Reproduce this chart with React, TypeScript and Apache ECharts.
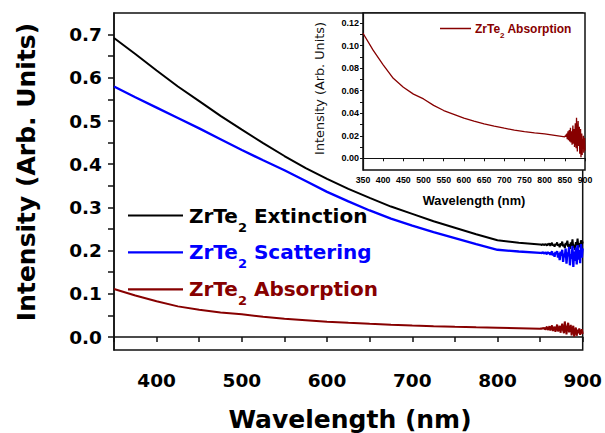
import React, { useEffect, useRef } from "react";
import * as echarts from "echarts";

// ---- data ----
const wavelength = [
  350, 375, 400, 425, 450, 475, 500, 525, 550, 575, 600, 625, 650, 675, 700, 725, 750, 775, 800, 825, 850,
  851, 852, 853, 854, 855, 856, 857, 858, 859, 860,
  861, 862, 863, 864, 865, 866, 867, 868, 869, 870,
  871, 872, 873, 874, 875, 876, 877, 878, 879, 880,
  881, 882, 883, 884, 885, 886, 887, 888, 889, 890,
  891, 892, 893, 894, 895, 896, 897, 898, 899, 900,
];
const extinction = [
  0.692, 0.655, 0.617, 0.58, 0.546, 0.512, 0.48, 0.449, 0.419, 0.391, 0.366, 0.343, 0.322, 0.302, 0.285, 0.268, 0.253, 0.238, 0.224, 0.218, 0.214,
  0.214, 0.213, 0.215, 0.214, 0.213, 0.215, 0.214, 0.212, 0.216, 0.213,
  0.217, 0.211, 0.215, 0.218, 0.212, 0.214, 0.209, 0.216, 0.213, 0.219,
  0.211, 0.215, 0.208, 0.217, 0.212, 0.221, 0.21, 0.214, 0.206, 0.218,
  0.213, 0.223, 0.209, 0.215, 0.204, 0.219, 0.211, 0.226, 0.207, 0.214,
  0.202, 0.22, 0.212, 0.228, 0.206, 0.217, 0.209, 0.224, 0.213, 0.221,
];
const scattering = [
  0.58, 0.555, 0.531, 0.507, 0.483, 0.458, 0.433, 0.409, 0.386, 0.361, 0.336, 0.314, 0.293, 0.274, 0.258, 0.243, 0.229, 0.215, 0.202, 0.198, 0.195,
  0.195, 0.194, 0.196, 0.195, 0.193, 0.196, 0.194, 0.192, 0.197, 0.193,
  0.196, 0.19, 0.195, 0.198, 0.189, 0.194, 0.186, 0.197, 0.192, 0.199,
  0.184, 0.195, 0.178, 0.198, 0.188, 0.202, 0.174, 0.193, 0.185, 0.205,
  0.17, 0.196, 0.187, 0.209, 0.166, 0.192, 0.181, 0.211, 0.162, 0.198,
  0.176, 0.207, 0.168, 0.213, 0.179, 0.201, 0.171, 0.215, 0.184, 0.205,
];
const absorption = [
  0.111, 0.096, 0.083, 0.071, 0.063, 0.057, 0.0527, 0.047, 0.0424, 0.039, 0.0356, 0.033, 0.0305, 0.0285, 0.0267, 0.025, 0.0237, 0.0226, 0.0216, 0.0203, 0.019,
  0.02, 0.019, 0.021, 0.019, 0.022, 0.017, 0.021, 0.024, 0.016, 0.02,
  0.025, 0.015, 0.022, 0.027, 0.014, 0.019, 0.024, 0.012, 0.021, 0.029,
  0.013, 0.018, 0.026, 0.01, 0.022, 0.031, 0.015, 0.009, 0.036, 0.02,
  0.006, 0.024, 0.033, 0.011, 0.017, 0.028, 0.004, 0.019, 0.026, 0.001,
  0.014, 0.022, 0.003, 0.017, 0.009, 0.02, 0.005, 0.013, 0.018, 0.007,
];

const mainXLabels = [400, 500, 600, 700, 800, 900];
const mainYLabels = [0, 0.1, 0.2, 0.3, 0.4, 0.5, 0.6, 0.7];
const mainYTicks = [0, 0.05, 0.1, 0.15, 0.2, 0.25, 0.3, 0.35, 0.4, 0.45, 0.5, 0.55, 0.6, 0.65, 0.7];
const insetYLabels = [0, 0.02, 0.04, 0.06, 0.08, 0.1, 0.12];
const insetYTicks = [0, 0.01, 0.02, 0.03, 0.04, 0.05, 0.06, 0.07, 0.08, 0.09, 0.1, 0.11, 0.12];

const material = "ZrTe";
const legendNames = ["Extinction", "Scattering", "Absorption"];
const seriesColors = ["#000000", "#0000ff", "#870000"];
const xTitle = "Wavelength (nm)";
const yTitle = "Intensity (Arb. Units)";

const DV = "'DejaVu Sans', sans-serif";
const LS = "'Liberation Sans', Arial, sans-serif";
const AX = "#111";

export default function App() {
  const ref = useRef<HTMLDivElement>(null);

  useEffect(() => {
    if (!ref.current) return;
    const chart = echarts.init(ref.current, null, { renderer: "svg" });
    const pairs = (vals: number[]) => wavelength.map((w, i) => [w, vals[i]]);
    const seriesVals = [extinction, scattering, absorption];

    const legendRows = [215.5, 252.3, 289.3];
    const graphic: any[] = [];
    legendNames.forEach((name, i) => {
      const y = legendRows[i];
      graphic.push({
        type: "line",
        z: 20,
        shape: { x1: 128, y1: y, x2: 183, y2: y },
        style: { stroke: seriesColors[i], lineWidth: 2.2 },
      });
      graphic.push({
        type: "text",
        z: 20,
        x: 189,
        y: y - 10,
        style: {
          text: `{a|${material}}{s|2}{a| ${name}}`,
          verticalAlign: "top",
          rich: {
            a: { fontSize: 20, fontWeight: "bold", fontFamily: DV, fill: seriesColors[i], lineHeight: 28, verticalAlign: "top" },
            s: { fontSize: 13, fontWeight: "bold", fontFamily: DV, fill: seriesColors[i], verticalAlign: "bottom" },
          },
        },
      });
    });
    // inset legend
    graphic.push({
      type: "line",
      z: 20,
      shape: { x1: 440, y1: 28.5, x2: 471, y2: 28.5 },
      style: { stroke: seriesColors[2], lineWidth: 1.5 },
    });
    graphic.push({
      type: "text",
      z: 20,
      x: 475,
      y: 22.5,
      style: {
        text: `{a|${material}}{s|2}{a| ${legendNames[2]}}`,
        verticalAlign: "top",
        rich: {
          a: { fontSize: 12, fontWeight: "bold", fontFamily: LS, fill: seriesColors[2], lineHeight: 17, verticalAlign: "top" },
          s: { fontSize: 8, fontWeight: "bold", fontFamily: LS, fill: seriesColors[2], verticalAlign: "bottom" },
        },
      },
    });
    // axis titles
    graphic.push({
      type: "text", z: 20, x: 350, y: 419,
      style: { text: xTitle, fontSize: 25, fontWeight: "bold", fontFamily: DV, fill: "#000", align: "center", verticalAlign: "middle" },
    });
    graphic.push({
      type: "text", z: 20, x: 26, y: 172, rotation: Math.PI / 2,
      style: { text: yTitle, fontSize: 25, fontWeight: "bold", fontFamily: DV, fill: "#000", align: "center", verticalAlign: "middle" },
    });
    graphic.push({
      type: "text", z: 20, x: 474, y: 200,
      style: { text: xTitle, fontSize: 12.8, fontWeight: "bold", fontFamily: LS, fill: "#000", align: "center", verticalAlign: "middle" },
    });
    graphic.push({
      type: "text", z: 20, x: 319.5, y: 88.5, rotation: Math.PI / 2,
      style: { text: yTitle, fontSize: 12.8, fontFamily: DV, fill: "#111", align: "center", verticalAlign: "middle" },
    });

    const option: any = {
      animation: false,
      backgroundColor: "#fff",
      grid: [
        { left: 114, right: 20, top: 13, bottom: 83, show: true, borderColor: AX, borderWidth: 1.5, backgroundColor: "transparent", z: 0 },
        { left: 363, right: 20, top: 13, bottom: 263, show: true, borderColor: AX, borderWidth: 1.5, backgroundColor: "#fff", z: 5 },
      ],
      xAxis: [
        {
          type: "value", gridIndex: 0, min: 350, max: 900, interval: 50,
          axisLine: { lineStyle: { color: AX, width: 1.5 } },
          axisTick: { length: 5, lineStyle: { color: AX, width: 1.5 } },
          axisLabel: {
            margin: 21, color: "#000", fontFamily: DV, fontSize: 18.5, fontWeight: "bold",
            formatter: (v: number) => (mainXLabels.includes(v) ? String(v) : ""),
          },
          splitLine: { show: false },
        },
        {
          type: "value", gridIndex: 1, min: 350, max: 900, interval: 50, z: 6,
          axisLine: { lineStyle: { color: AX, width: 1.2 } },
          axisTick: { length: 3, lineStyle: { color: AX, width: 1 } },
          axisLabel: { margin: 5, color: "#000", fontFamily: LS, fontSize: 8.8, fontWeight: "bold" },
          splitLine: { show: false },
        },
      ],
      yAxis: [
        {
          type: "value", gridIndex: 0, min: -0.03, max: 0.75,
          axisLine: { show: true, lineStyle: { color: AX, width: 1.5 } },
          axisTick: { show: true, length: 6, customValues: mainYTicks, lineStyle: { color: AX, width: 1.5 } },
          axisLabel: {
            customValues: mainYLabels, margin: 12, color: "#000", fontFamily: DV, fontSize: 18.5, fontWeight: "bold",
            formatter: (v: number) => v.toFixed(1),
          },
          splitLine: { show: false },
        },
        {
          type: "value", gridIndex: 1, min: -0.0104, max: 0.129, z: 6,
          axisLine: { show: true, lineStyle: { color: AX, width: 1.2 } },
          axisTick: { show: true, length: 3, customValues: insetYTicks, lineStyle: { color: AX, width: 1 } },
          axisLabel: {
            customValues: insetYLabels, margin: 4, color: "#000", fontFamily: LS, fontSize: 9, fontWeight: "bold",
            formatter: (v: number) => v.toFixed(2),
          },
          splitLine: { show: false },
        },
      ],
      series: [
        ...seriesVals.map((vals, i) => ({
          type: "line", xAxisIndex: 0, yAxisIndex: 0, name: legendNames[i],
          data: pairs(vals), symbol: "none", showSymbol: false, z: 3,
          lineStyle: { color: seriesColors[i], width: i === 1 ? 2.3 : 2 },
        })),
        {
          type: "line", xAxisIndex: 1, yAxisIndex: 1, name: "inset",
          data: pairs(absorption), symbol: "none", showSymbol: false, z: 7,
          lineStyle: { color: seriesColors[2], width: 1.3 },
        },
      ],
      graphic,
    };
    chart.setOption(option);
    return () => chart.dispose();
  }, []);

  return (
    <div
      ref={ref}
      style={{ position: "absolute", left: 0, top: 0, width: 605, height: 433 }}
    />
  );
}
